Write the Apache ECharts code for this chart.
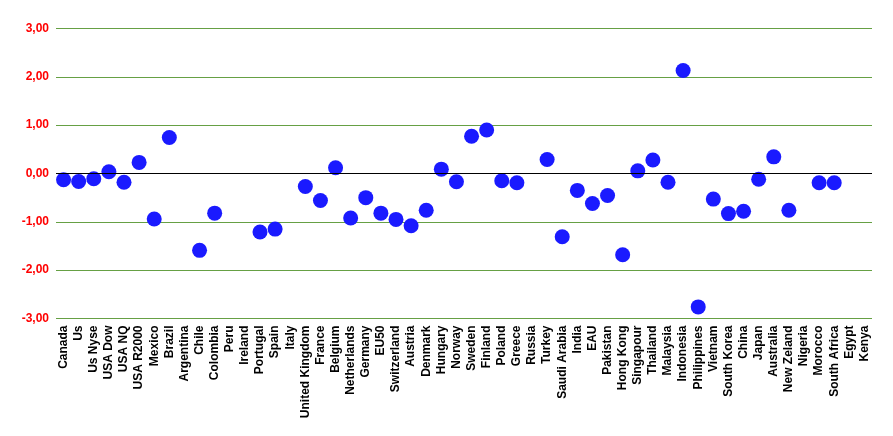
<!DOCTYPE html>
<html><head><meta charset="utf-8">
<script src="https://cdn.jsdelivr.net/npm/echarts@6/dist/echarts.min.js"></script>
<style>html,body{margin:0;padding:0;background:#fff}#c{width:893px;height:436px}</style>
</head><body><div id="c"></div>
<script>
var categories = ["Canada","Us","Us Nyse","USA Dow","USA NQ","USA R2000","Mexico","Brazil","Argentina","Chile","Colombia","Peru","Ireland","Portugal","Spain","Italy","United Kingdom","France","Belgium","Netherlands","Germany","EU50","Switzerland","Austria","Denmark","Hungary","Norway","Sweden","Finland","Poland","Greece","Russia","Turkey","Saudi Arabia","India","EAU","Pakistan","Hong Kong","Singapour","Thailand","Malaysia","Indonesia","Philippines","Vietnam","South Korea","China","Japan","Australia","New Zeland","Nigeria","Morocco","South Africa","Egypt","Kenya"];
var values = [-0.13,-0.165,-0.11,0.035,-0.18,0.23,-0.94,0.745,null,-1.59,-0.82,null,null,-1.21,-1.15,null,-0.27,-0.56,0.12,-0.92,-0.50,-0.82,-0.95,-1.08,-0.76,0.09,-0.17,0.77,0.90,-0.15,-0.19,null,0.29,-1.31,-0.35,-0.62,-0.455,-1.68,0.055,0.28,-0.18,2.13,-2.76,-0.53,-0.83,-0.78,-0.12,0.345,-0.76,null,-0.19,-0.19,null,null];
var yMin = -3, yMax = 3, yStep = 1;

var chart = echarts.init(document.getElementById('c'), null, {renderer:'canvas'});
chart.setOption({
  animation:false,
  backgroundColor:'#fff',
  grid:{left:56, right:21, top:28.5, bottom:117.5, containLabel:false},
  xAxis:{type:'category', data:categories, boundaryGap:true,
    axisLine:{show:false}, axisTick:{show:false}, splitLine:{show:false},
    axisLabel:{interval:0, rotate:90, color:'#000', fontFamily:'Liberation Sans, Arial, sans-serif', fontWeight:'bold', fontSize:12, margin:7}},
  yAxis:{type:'value', min:yMin, max:yMax, interval:yStep,
    axisLine:{show:false}, axisTick:{show:false},
    splitLine:{lineStyle:{color:'#66a044', width:1}},
    axisLabel:{color:'#ff0000', fontFamily:'Liberation Sans, Arial, sans-serif', fontWeight:'bold', fontSize:12, margin:7,
      formatter:function(v){return v.toFixed(2).replace('.',',');}}},
  series:[{type:'scatter', data:values, symbol:'circle', symbolSize:15,
    itemStyle:{color:'#1a1aff', opacity:1},
    markLine:{silent:true, symbol:'none', label:{show:false}, lineStyle:{color:'#000', width:1, type:'solid'}, data:[{yAxis:0}]}}]
});
</script></body></html>
